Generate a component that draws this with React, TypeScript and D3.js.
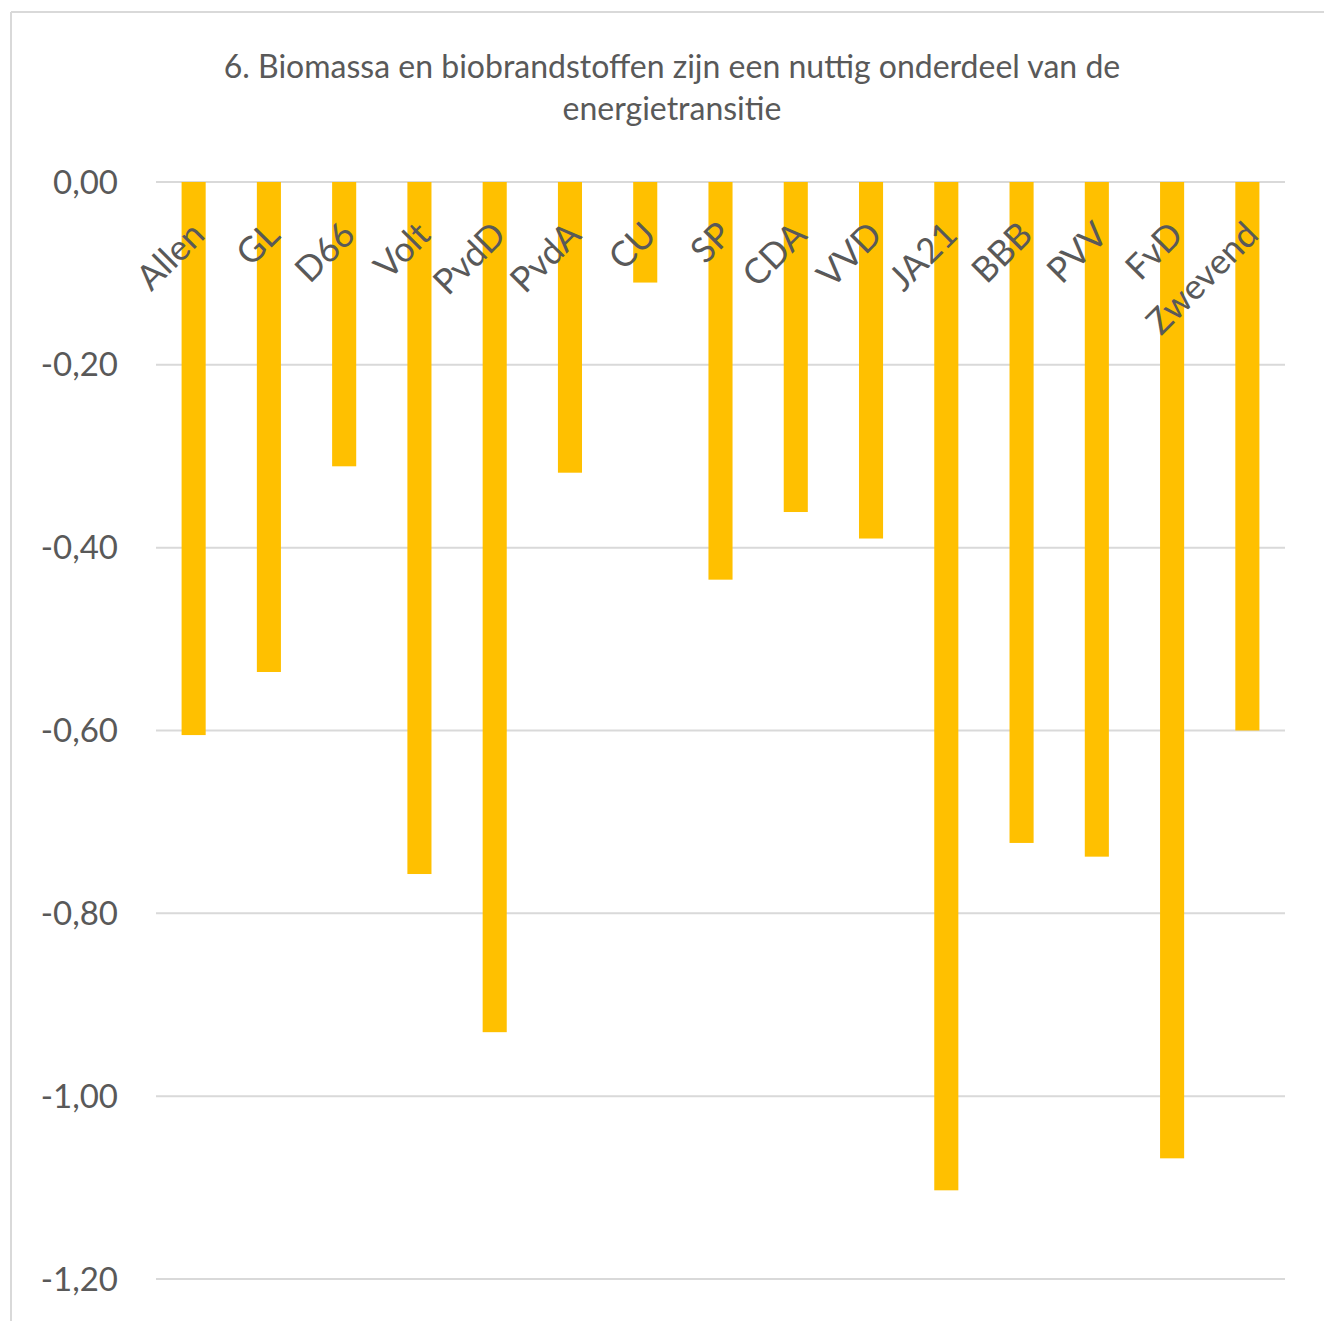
import React from "react";
import * as d3 from "d3";

const categories = ["Allen", "GL", "D66", "Volt", "PvdD", "PvdA", "CU", "SP", "CDA", "VVD", "JA21", "BBB", "PVV", "FvD", "Zwevend"];
const values = [-0.605, -0.536, -0.311, -0.757, -0.930, -0.318, -0.110, -0.435, -0.361, -0.390, -1.103, -0.723, -0.738, -1.068, -0.600];
const yTicks = [0, -0.2, -0.4, -0.6, -0.8, -1.0, -1.2];
const titleLines = ["6. Biomassa en biobrandstoffen zijn een nuttig onderdeel van de", "energietransitie"];

const W = 1324;
const H = 1321;
const plotLeft = 156;
const plotRight = 1285;
const plotTop = 182;
const plotBottom = 1279;
const textColor = "#595959";
const font = "Lato, 'Open Sans', sans-serif";

export default function App() {
  const x = d3.scaleBand<string>().domain(categories).range([plotLeft, plotRight]).paddingInner(0.68).paddingOuter(0.34);
  const y = d3.scaleLinear().domain([0, -1.2]).range([plotTop, plotBottom]);
  const fmt = (v: number) => (Math.abs(v) < 1e-9 ? "0,00" : d3.format(".2f")(v).replace(".", ",").replace("−", "-"));
  return (
    <svg width={W} height={H} style={{ position: "absolute", left: 0, top: 0, background: "#fff" }}>
      <rect x={0} y={0} width={W} height={H} fill="#fff" />
      <line x1={11} y1={12} x2={W} y2={12} stroke="#d9d9d9" strokeWidth={2} />
      <line x1={11} y1={12} x2={11} y2={H} stroke="#d9d9d9" strokeWidth={2} />
      {titleLines.map((t, i) => (
        <text key={i} x={672} y={78 + i * 42} textAnchor="middle" fontFamily={font} fontSize={32} fill={textColor}>{t}</text>
      ))}
      {yTicks.map((t) => (
        <g key={t}>
          <line x1={plotLeft} x2={plotRight} y1={y(t)} y2={y(t)} stroke="#d9d9d9" strokeWidth={2} />
          <text x={118} y={y(t)} dy="0.35em" textAnchor="end" fontFamily={font} fontSize={33} fill={textColor}>{fmt(t)}</text>
        </g>
      ))}
      {categories.map((c, i) => (
        <rect key={c} x={x(c)} y={y(0)} width={x.bandwidth()} height={y(values[i]) - y(0)} fill="#FFC000" />
      ))}
      {categories.map((c) => {
        const cx = (x(c) as number) + x.bandwidth() / 2;
        return (
          <text key={c} transform={`translate(${cx + 13},${plotTop + 55}) rotate(-45)`} textAnchor="end" fontFamily={font} fontSize={35} fill={textColor}>{c}</text>
        );
      })}
    </svg>
  );
}
